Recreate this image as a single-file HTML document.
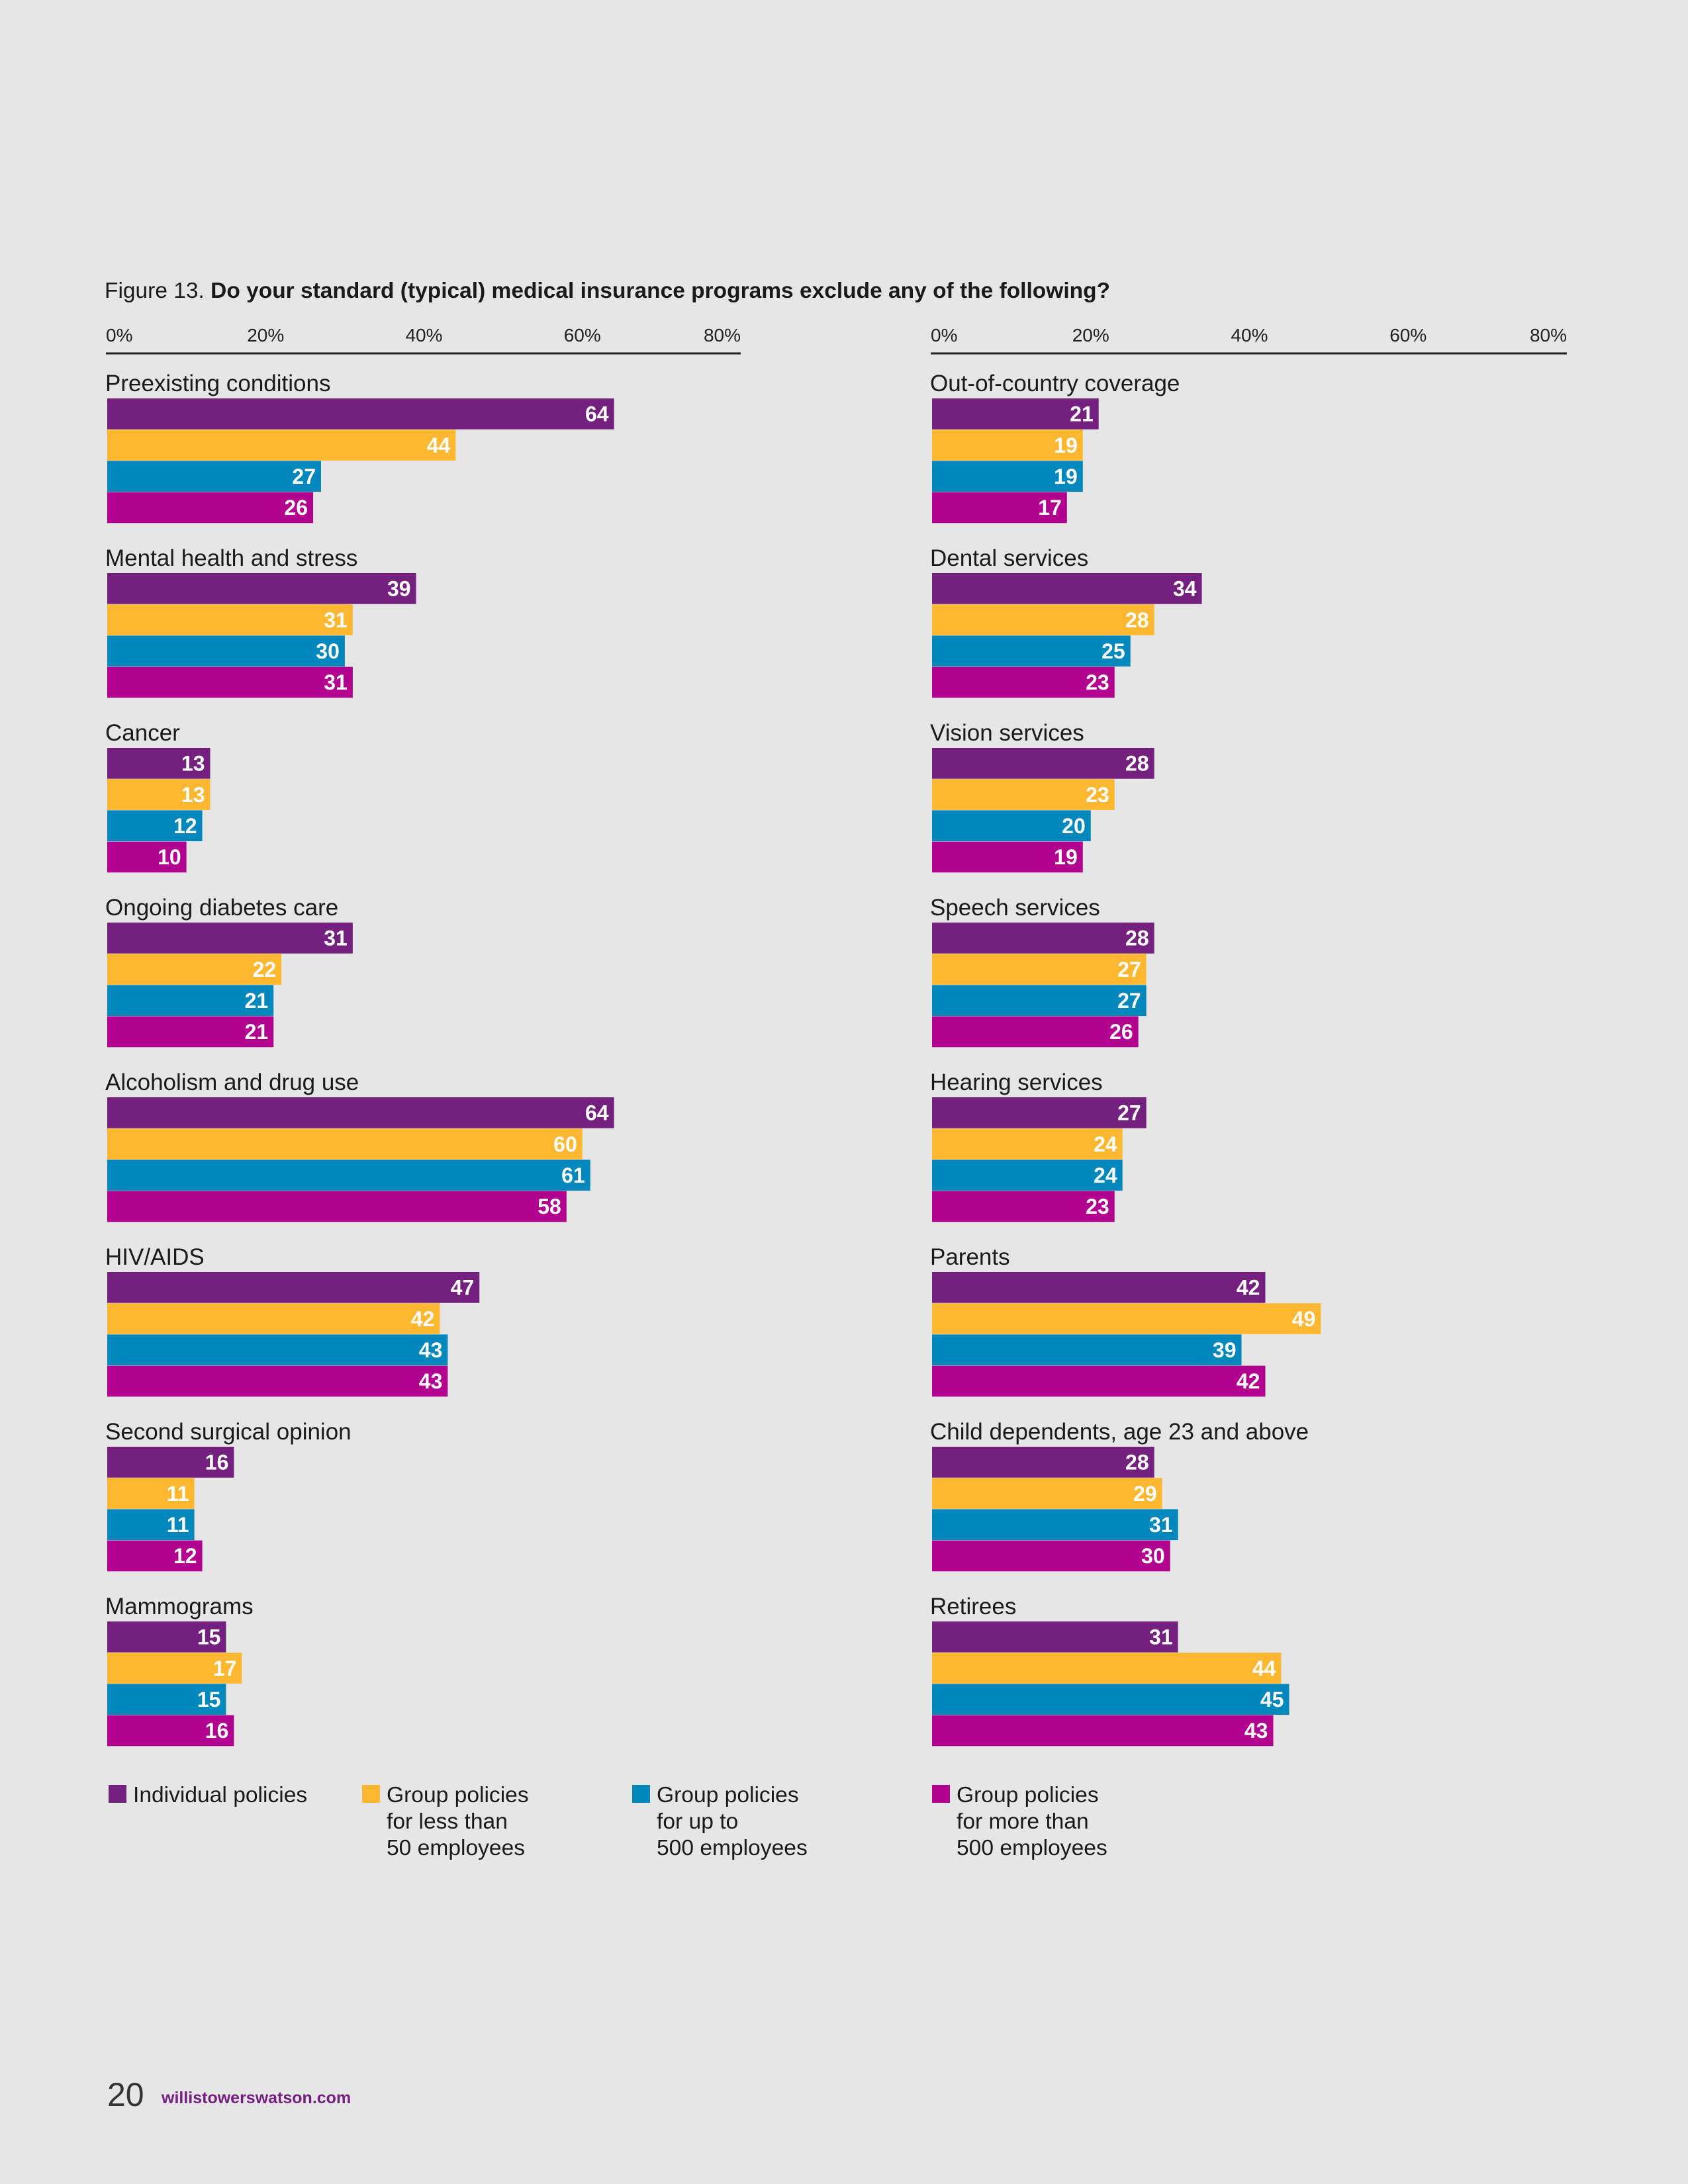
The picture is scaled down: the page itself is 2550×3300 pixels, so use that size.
<!DOCTYPE html>
<html><head><meta charset="utf-8">
<style>
html,body{margin:0;padding:0;background:#e6e6e6;}
svg{display:block;font-family:"Liberation Sans",Arial,sans-serif;}
</style></head>
<body>
<svg id="chart" width="2550" height="3300" viewBox="0 0 2550 3300" xmlns="http://www.w3.org/2000/svg">
<rect width="2550" height="3300" fill="#e6e6e6"/>
<text x="158" y="450" font-size="33.5" fill="#1a1a1a">Figure 13. <tspan font-weight="bold">Do your standard (typical) medical insurance programs exclude any of the following?</tspan></text>
<g id="panels"></g>
<g id="legend"></g>
<text x="162" y="3182" font-size="50" fill="#333">20</text>
<text x="244" y="3178" font-size="25" font-weight="bold" fill="#74207f">willistowerswatson.com</text>
</svg>
<script>
const seriesNames = ["Individual policies","Group policies\nfor less than\n50 employees","Group policies\nfor up to\n500 employees","Group policies\nfor more than\n500 employees"];
const leftCategories = ["Preexisting conditions","Mental health and stress","Cancer","Ongoing diabetes care","Alcoholism and drug use","HIV/AIDS","Second surgical opinion","Mammograms"];
const leftIndividual = [64,39,13,31,64,47,16,15];
const leftGroupSmall = [44,31,13,22,60,42,11,17];
const leftGroupMid = [27,30,12,21,61,43,11,15];
const leftGroupLarge = [26,31,10,21,58,43,12,16];
const rightCategories = ["Out-of-country coverage","Dental services","Vision services","Speech services","Hearing services","Parents","Child dependents, age 23 and above","Retirees"];
const rightIndividual = [21,34,28,28,27,42,28,31];
const rightGroupSmall = [19,28,23,27,24,49,29,44];
const rightGroupMid = [19,25,20,27,24,39,31,45];
const rightGroupLarge = [17,23,19,26,23,42,30,43];
const tickValues = [0,20,40,60,80];
const tickLabels = ["0%","20%","40%","60%","80%"];

const colors = ["#74207f","#fdb731","#0087bb","#b2008f"];
const NS = "http://www.w3.org/2000/svg";
function mk(tag, attrs, parent){const e=document.createElementNS(NS,tag);for(const k in attrs)e.setAttribute(k,attrs[k]);parent.appendChild(e);return e;}
const panels = document.getElementById('panels');

function drawPanel(x0, x80, cats, series, pname){
  const xs = v => x0 + (x80-x0)*v/80;
  const g = mk('g',{},panels);
  
  
  const ax = mk('line',{x1:x0-2,x2:x80,y1:534,y2:534,stroke:'#222','stroke-width':3},g);
  
  
  tickValues.forEach((v,i)=>{
    const anchor = i===0?'start':(i===tickValues.length-1?'end':'middle');
    const t = mk('text',{x:xs(v)+(i===0?-2:0),y:516,'font-size':28,fill:'#222','text-anchor':anchor},g);
    t.textContent = tickLabels[i];
    
    
  });
  const barH = 47.2, groupStep = 264, top0 = 602;
  cats.forEach((c,ci)=>{
    const gy = top0 + ci*groupStep;
    const lab = mk('text',{x:x0-3,y:gy-11,'font-size':35,fill:'#1a1a1a'},g);
    lab.textContent = c;
    
    
    series.forEach((arr,si)=>{
      const v = arr[ci];
      const y = gy + si*barH;
      const r = mk('rect',{x:x0,y:y,width:xs(v)-x0,height:barH-0.5,fill:colors[si]},g);
      
      
      const vt = mk('text',{x:xs(v)-8,y:y+barH/2+11,'font-size':32,'font-weight':'bold',fill:'#fff','text-anchor':'end'},g);
      vt.textContent = v;
      
      
    });
  });
}
drawPanel(162,1119,leftCategories,[leftIndividual,leftGroupSmall,leftGroupMid,leftGroupLarge],'left-panel');
drawPanel(1408,2367,rightCategories,[rightIndividual,rightGroupSmall,rightGroupMid,rightGroupLarge],'right-panel');

const legend = document.getElementById('legend');
const legX = [164,547,955,1408];
seriesNames.forEach((n,i)=>{
  const g = mk('g',{},legend);
  
  
  const sw = mk('rect',{x:legX[i],y:2697,width:27,height:27,fill:colors[i]},g);
  
  
  n.split('\n').forEach((line,li)=>{
    const t = mk('text',{x:legX[i]+37,y:2723+li*40,'font-size':33.6,fill:'#1a1a1a'},g);
    t.textContent = line;
    
    
  });
});
</script>
</body></html>
